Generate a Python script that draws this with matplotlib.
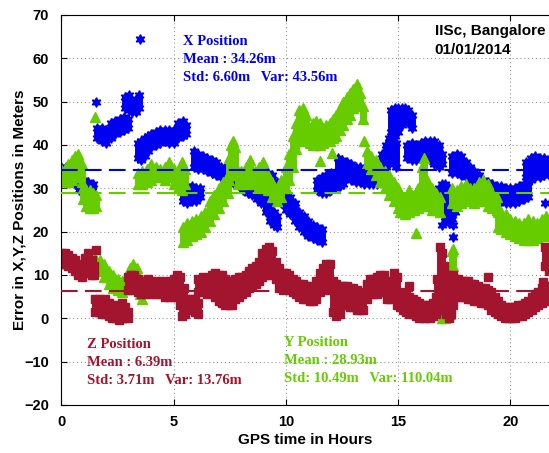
import matplotlib
matplotlib.use("Agg")
import matplotlib.pyplot as plt

# --- X position error: time (h), lower / upper edge of the point cloud (m) ---
x_t = [0.0, 0.2, 0.4, 0.6, 0.8, 1.0, 1.2, 1.4,
       1.6, 1.8, 2.0, 2.2, 2.4, 2.6, 2.8, 2.95,
       2.85, 3.0, 3.15, 3.3, 3.45,
       3.4, 3.55, 3.7, 3.85, 4.0, 4.2, 4.4, 4.6, 4.8, 5.0, 5.2, 5.4, 5.55,
       5.4, 5.6, 5.8, 6.0, 6.15,
       5.9, 6.1, 6.3, 6.5, 6.7, 6.9, 7.1, 7.3, 7.5, 7.7, 7.9, 8.1, 8.3, 8.5,
       8.7, 8.9, 9.1, 9.3, 9.45, 9.6,
       9.0, 9.2, 9.4, 9.6, 9.8, 10.0, 10.2, 10.4, 10.6, 10.8, 11.0, 11.2, 11.4, 11.6,
       11.4, 11.6, 11.8, 12.0, 12.2, 12.4, 12.55,
       12.3, 12.5, 12.7, 12.9, 13.1, 13.3, 13.5, 13.7, 13.9, 14.05,
       14.3, 14.45, 14.6, 14.75, 14.9,
       14.7, 14.85, 15.0, 15.15, 15.3, 15.45, 15.6,
       15.4, 15.6, 15.8, 16.0, 16.2, 16.4, 16.6, 16.8, 16.95,
       16.8, 16.95, 17.1, 17.25, 17.4, 17.55,
       17.4, 17.6, 17.8, 18.0, 18.2, 18.4, 18.6, 18.8, 19.0, 19.2, 19.4, 19.6,
       19.8, 20.0, 20.2, 20.4, 20.6, 20.8,
       20.7, 20.9, 21.1, 21.3, 21.5, 21.7]
x_lo = [32.5, 32.5, 32, 31, 29.5, 29.5, 29.5, 28.5,
        41.5, 41, 40.5, 41.5, 42.5, 43, 43.5, 44,
        48.5, 48, 47.5, 47.5, 48.5,
        37, 36.5, 37.5, 38.5, 39.5, 40, 40.5, 41, 40.5, 40.5, 41.5, 42, 42.5,
        27, 26.5, 27, 27, 28,
        35, 34.5, 34.5, 34, 33.5, 33, 32.5, 32.5, 31.5, 31, 30.5, 29.5, 29, 28.5,
        27.5, 26.5, 24.5, 22.5, 21.5, 21,
        30.5, 30.5, 29.5, 28, 26.5, 25, 24, 22.5, 21, 20, 19, 18.5, 18, 17.5,
        29.5, 29, 29, 29.5, 30, 30.5, 31,
        33.5, 33, 32.5, 32, 31.5, 31.5, 31, 31, 31, 31,
        35, 35, 35.5, 36, 35,
        43, 42, 43, 44.5, 45.5, 45, 44,
        37, 36.5, 36.5, 37, 37, 36.5, 35.5, 35, 35.5,
        27, 25, 22.5, 22, 23, 24.5,
        33.5, 33.5, 33, 32.5, 31.5, 30.5, 29.5, 28.5, 28, 27.5, 27.5, 27,
        26.5, 26.5, 26.5, 27, 27.5, 28,
        32.5, 32, 32.5, 32.5, 33, 33]
x_hi = [35, 35, 34.5, 33.5, 32.5, 32, 31.5, 31,
        44, 44, 43.5, 45, 45.5, 46, 46.5, 46,
        51, 51.5, 50, 50.5, 51.5,
        40.5, 41, 41.5, 42, 42.5, 43, 43.5, 43.5, 43.5, 43.5, 45, 45.5, 44.5,
        30, 30.5, 30.5, 30, 30,
        38.5, 38, 37.5, 37, 36.5, 36, 35, 35, 34.5, 34, 33.5, 33, 32.5, 32,
        31, 30, 28.5, 26.5, 24.5, 23.5,
        34, 33.5, 33, 31.5, 30, 29, 28, 26.5, 24.5, 23.5, 22.5, 21.5, 21, 20.5,
        32, 32.5, 33, 33.5, 33.5, 33.5, 33,
        37, 36.5, 36, 35.5, 35, 35, 34.5, 34.5, 34, 34,
        38, 40, 41.5, 42, 40.5,
        48, 48.5, 48.5, 48.5, 48.5, 48, 47,
        40, 40.5, 40, 40.5, 41, 41, 41, 40, 38,
        30, 31, 31, 30, 29, 28,
        37.5, 38, 37.5, 36, 35, 34, 33, 32, 31.5, 31, 30.5, 30.5,
        30, 30, 30, 30.5, 31, 31.5,
        36, 37, 37.5, 37, 37, 36.5]
x_out_t = [1.55, 3.5, 16.95, 17.45, 17.45, 21.55]
x_out_v = [50, 64.5, 21.6, 21.6, 18.7, 26.6]

# --- Y position error ---
y_t = [0.0, 0.15, 0.3, 0.45, 0.6, 0.75, 0.9,
       0.95, 1.1, 1.25, 1.4, 1.55,
       1.5, 1.7, 1.9, 2.1, 2.3, 2.5, 2.7, 2.9, 3.05, 3.2, 3.35, 3.5, 3.6,
       3.4, 3.6, 3.8, 4.0, 4.2, 4.4, 4.6, 4.8, 5.0, 5.2, 5.35, 5.5,
       5.4, 5.6, 5.8, 6.0, 6.2, 6.4, 6.6, 6.8, 7.0, 7.2, 7.4,
       7.45, 7.55, 7.65, 7.75,
       7.85, 8.0, 8.2, 8.4, 8.6, 8.8, 9.0, 9.2, 9.4, 9.6, 9.8, 10.0, 10.15, 10.3,
       10.45, 10.6, 10.75, 10.9, 11.05, 11.2, 11.35, 11.5, 11.65, 11.8, 11.95,
       12.1, 12.25, 12.4, 12.55, 12.7, 12.85, 13.0, 13.15, 13.3, 13.45,
       13.6, 13.8, 14.0, 14.2, 14.4, 14.6, 14.8, 15.0,
       15.1, 15.3, 15.5, 15.7, 15.9, 16.05, 16.15, 16.3, 16.5, 16.7, 16.85,
       16.95, 17.1, 17.2, 17.3, 17.4, 17.45,
       17.4, 17.6, 17.8, 18.0, 18.2, 18.4, 18.6, 18.8, 19.0, 19.2, 19.4,
       19.45, 19.6, 19.8, 20.0, 20.2, 20.4, 20.6, 20.8, 21.0, 21.2, 21.4, 21.6, 21.75]
y_lo = [31.5, 31.5, 31.5, 32, 32.5, 32.5, 31.5,
        27.5, 26, 25.5, 25.5, 26,
        12, 11, 9.5, 8, 7, 6.5, 6, 7, 8.5, 9, 7.5, 5.5, 4.5,
        31, 31, 31.5, 32, 32.5, 32.5, 32, 32.5, 31, 30, 29.5, 31,
        17.5, 18, 19, 19.5, 20, 21, 22.5, 24, 25.5, 27, 29,
        32, 33, 34, 33,
        31, 31, 31, 31.5, 31, 30.5, 30, 29.5, 28, 27, 28, 30, 32, 35,
        39, 41, 41.5, 41, 40.5, 40, 40, 40, 40.5, 41, 41,
        41.5, 42, 43.5, 44.5, 46, 47, 48.5, 50, 49, 46,
        35.5, 34.5, 33, 31.5, 30, 28.5, 27, 25.5,
        24.5, 24, 24.5, 25, 25.5, 26, 26.5, 26, 25, 25, 24.5,
        0, 0, 0.5, 1, 11, 12,
        26.5, 26, 26.5, 27, 27, 26.5, 27, 27, 26, 25.5, 25,
        21, 20.5, 20, 19.5, 19, 18.5, 18, 18, 18, 18.5, 19, 19, 19.5]
y_hi = [34.5, 34.5, 35.5, 36.5, 37.5, 38, 35.5,
        30, 29.5, 29.5, 29, 28.5,
        14, 13.5, 12.5, 11, 10, 9, 8.5, 10, 11.5, 12.5, 11.5, 9, 7,
        33.5, 34, 34.5, 35.5, 35, 34.5, 35, 36, 34.5, 34, 36, 34.5,
        21, 22, 22.5, 23, 23.5, 24.5, 27, 28.5, 30, 31.5, 33,
        37, 40, 41, 39.5,
        34, 34, 35, 36.5, 34, 35, 36, 33, 31.5, 30, 32, 35, 38, 42,
        45, 48, 48.5, 47, 44, 45, 45.5, 45, 44, 44.5, 45,
        46, 47, 48.5, 50, 51, 52, 53, 54, 52, 49,
        38.5, 37.5, 36.5, 35, 34, 33, 31.5, 30,
        29, 28, 29.5, 28.5, 30, 35, 37, 32, 30, 29, 28,
        5, 6, 6, 5.5, 15.5, 16,
        30, 29.5, 30.5, 31, 30, 30, 31.5, 32, 31, 29, 28,
        24.5, 24.5, 24, 23, 22.5, 22, 22, 23, 22.5, 22, 23, 23.5, 23]
y_out_t = [1.5, 11.5, 12.05, 13.5, 15.8]
y_out_v = [46.5, 36.2, 38.2, 40.8, 19.7]

# --- Z position error ---
z_t = [0.0, 0.15, 0.3, 0.45, 0.6, 0.75, 0.9, 1.05, 1.2, 1.35, 1.45,
       1.5, 1.65, 1.8, 1.95, 2.1, 2.25, 2.4, 2.55, 2.7, 2.85, 2.95,
       2.95, 3.1, 3.25, 3.4, 3.55, 3.7, 3.85, 4.0, 4.2, 4.4, 4.6, 4.8, 5.0, 5.15, 5.3, 5.45,
       5.35, 5.5, 5.65, 5.8, 5.95, 6.1,
       6.1, 6.3, 6.5, 6.7, 6.85, 7.0, 7.15, 7.3, 7.45, 7.6, 7.75, 7.9, 8.05, 8.2,
       8.35, 8.5, 8.65, 8.8, 8.95, 9.1, 9.25, 9.4, 9.55,
       9.7, 9.85, 10.0, 10.15, 10.3, 10.45, 10.6, 10.75, 10.9, 11.05, 11.2,
       11.35, 11.5, 11.65, 11.8, 11.95,
       12.1, 12.25, 12.4, 12.55, 12.7, 12.85, 13.0, 13.15, 13.3, 13.45,
       13.6, 13.75, 13.9, 14.05, 14.2, 14.35, 14.5, 14.65, 14.8, 14.95, 15.1,
       15.2, 15.35, 15.5, 15.65, 15.8, 15.95, 16.1, 16.25, 16.4, 16.55, 16.7,
       16.75, 16.85, 16.95, 17.05, 17.15, 17.25, 17.35, 17.45, 17.55,
       17.65, 17.8, 17.95, 18.1, 18.25, 18.4, 18.55, 18.7, 18.85, 19.0, 19.15, 19.3, 19.45,
       19.6, 19.75, 19.9, 20.05, 20.2, 20.35, 20.5, 20.65, 20.8, 20.95, 21.1, 21.25,
       21.4, 21.55, 21.7,
       21.55, 21.7]
z_lo = [12.5, 12.5, 12, 11.5, 11, 10, 9.5, 10.5, 11, 10, 10,
        1.5, 1.5, 1, 1, 0.5, 0, 0, -0.5, 0, 0, 0,
        6.5, 6.5, 7, 6, 5.5, 5.5, 6, 5.5, 5.5, 5.5, 5, 5, 5, 5, 3, 2.5,
        0.5, 1, 2, 2.5, 1.5, 1,
        6, 6, 5.5, 6, 5, 4, 3.5, 3, 3, 3, 4.5, 5, 5.5, 6,
        7, 7.5, 8, 8.5, 9.5, 10, 11, 10, 9,
        7, 6.5, 7, 6.5, 6, 5.5, 5, 4.5, 4.5, 4, 4,
        4.5, 6, 6.5, 7, 6.5,
        1.5, 0.5, 1, 3, 3, 2.5, 2.5, 2, 2, 2,
        4.5, 5.5, 5.5, 5.5, 6, 6, 4.5, 4.5, 5.5, 3, 2.5,
        2, 1.5, 1, 1, 0.5, 0, 0, 0, 0, 0.5, 1,
        2, 8, 6, 2, 1, 0, 1, 3, 5,
        5.5, 5, 5, 4.5, 4.5, 4, 4, 3.5, 3.5, 3, 2, 1.5, 1,
        0.5, 0, 0, 0, 0, 0.5, 0.5, 1, 1.5, 2, 2.5, 3,
        3.5, 4, 4.5,
        12, 11]
z_hi = [15, 15, 14.5, 14, 13.5, 12.5, 12, 14, 15, 13.5, 12,
        4.5, 4.5, 4, 4.5, 3.5, 3, 2.5, 3, 3.5, 2.5, 1.5,
        9.5, 10, 10, 9, 8.5, 8.5, 9, 8.5, 8, 8.5, 8, 8.5, 9, 10, 9.5, 7,
        4, 4.5, 4.5, 4.5, 4.5, 3.5,
        9, 9.5, 8.5, 10, 10.5, 10, 10, 9, 8.5, 8.5, 9, 9.5, 9.5, 10,
        11, 11.5, 12, 13, 15, 16, 16.5, 15.5, 13,
        11.5, 10.5, 10.5, 10, 9, 8.5, 8, 8, 7.5, 7.5, 7,
        8.5, 10.5, 11.5, 12.5, 12.5,
        8.5, 8, 7.5, 7.5, 7.5, 7, 7, 6.5, 6, 5.5,
        8, 9, 9, 9.5, 10, 10, 8, 8.5, 10.5, 9.5, 6,
        5.5, 5.5, 5, 4.5, 4, 3.5, 3, 3, 3, 3.5, 5,
        9, 16.5, 15, 12, 10, 10, 9.5, 10, 9,
        9, 8.5, 8.5, 8.5, 8, 8, 7.5, 7, 7, 6.5, 6, 5, 4,
        3, 2.5, 2.5, 2.5, 2.5, 3, 3, 3.5, 4, 5, 5.5, 6,
        7, 7.5, 7.5,
        16.5, 15]
z_out_t = [1.55, 15.5, 19.0, 21.45]
z_out_v = [15.8, 7.5, 9.6, 8.4]

means = [34.26, 28.93, 6.39]

BLUE = '#0000f0'
GREEN = '#66cc00'
RED = '#a3142f'

fig = plt.figure(figsize=(5.49, 4.53), dpi=100)
ax = fig.add_axes([0.112, 0.106, 0.888, 0.861])

star6 = (6, 1, 0)


def draw_cloud(t, lo, hi, ot, ov, color, marker, ms):
    ax.vlines(t, lo, hi, color=color, lw=5, zorder=2)
    ax.plot(t, lo, ls='none', marker=marker, ms=ms, color=color, mec=color, zorder=2)
    ax.plot(t, hi, ls='none', marker=marker, ms=ms, color=color, mec=color, zorder=2)
    ax.plot(ot, ov, ls='none', marker=marker, ms=ms, color=color, mec=color, zorder=2)


draw_cloud(x_t, x_lo, x_hi, x_out_t, x_out_v, BLUE, star6, 7)
draw_cloud(y_t, y_lo, y_hi, y_out_t, y_out_v, GREEN, '^', 7)
draw_cloud(z_t, z_lo, z_hi, z_out_t, z_out_v, RED, 's', 5.5)

for m, c in zip(means, [BLUE, GREEN, RED]):
    ax.axhline(m, color=c, lw=1.5, dashes=(8, 3.5), zorder=3)

ax.set_xlim(0, 21.72)
ax.set_ylim(-20, 70)
ax.set_xticks([0, 5, 10, 15, 20])
ax.set_yticks(range(-20, 71, 10))
ax.grid(True, color='#999999', lw=0.8, ls=(0, (1, 2.5)))
ax.set_axisbelow(True)
ax.tick_params(direction='in', top=True, right=False, length=4, labelsize=10.5)
ax.tick_params(axis='y', pad=9)
ax.tick_params(axis='x', pad=7)
for lab in ax.get_xticklabels() + ax.get_yticklabels():
    lab.set_fontweight('bold')
    lab.set_family('Liberation Sans')
ax.spines['right'].set_visible(False)

ax.set_xlabel('GPS time in Hours', fontsize=11, fontweight='bold',
              family='Liberation Sans', labelpad=3)
ax.set_ylabel('Error in X,Y,Z Positions in Meters', fontsize=11,
              fontweight='bold', family='Liberation Sans', labelpad=-2)

serif = dict(family='Liberation Serif', fontweight='bold', fontsize=10.5, va='center')
ax.text(5.41, 63.8, 'X Position', color=BLUE, **serif)
ax.text(5.41, 59.7, 'Mean : 34.26m', color=BLUE, **serif)
ax.text(5.41, 55.5, 'Std: 6.60m   Var: 43.56m', color=BLUE, **serif)

ax.text(1.14, -6.1, 'Z Position', color=RED, **serif)
ax.text(1.14, -10.3, 'Mean : 6.39m', color=RED, **serif)
ax.text(1.14, -14.4, 'Std: 3.71m   Var: 13.76m', color=RED, **serif)

ax.text(9.91, -5.6, 'Y Position', color=GREEN, **serif)
ax.text(9.91, -9.8, 'Mean : 28.93m', color=GREEN, **serif)
ax.text(9.91, -13.9, 'Std: 10.49m   Var: 110.04m', color=GREEN, **serif)

sans = dict(family='Liberation Sans', fontweight='bold', fontsize=11, va='center')
ax.text(16.62, 66.2, 'IISc, Bangalore', color='black', **sans)
ax.text(16.62, 61.8, '01/01/2014', color='black', **sans)

fig.savefig('out.png', dpi=100)
